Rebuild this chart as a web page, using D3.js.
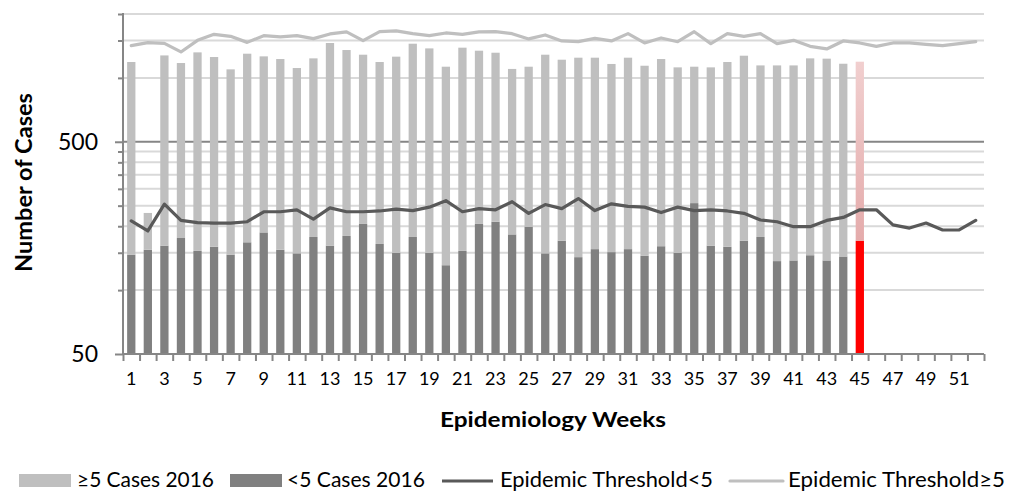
<!DOCTYPE html>
<html>
<head>
<meta charset="utf-8">
<script src="https://cdn.jsdelivr.net/npm/d3@7"></script>
<style>
  html, body { margin: 0; padding: 0; background: #fff; }
  svg { display: block; font-family: Lato, "Open Sans", sans-serif; }
</style>
</head>
<body>
<svg id="chart" width="1023" height="493"></svg>
<script>
// ---------- data ----------
const weeks = [1,2,3,4,5,6,7,8,9,10,11,12,13,14,15,16,17,18,19,20,21,22,23,24,25,26,
               27,28,29,30,31,32,33,34,35,36,37,38,39,40,41,42,43,44,45,46,47,48,49,50,51,52];
const weekLabels = [1,3,5,7,9,11,13,15,17,19,21,23,25,27,29,31,33,35,37,39,41,43,45,47,49,51];

const casesLt5 = [147,155,162,176,153,160,147,168,187,155,149,178,162,180,205,165,150,178,150,131,
                  153,205,210,183,199,149,171,143,156,151,156,145,161,150,257,162,160,171,178,137,
                  138,146,138,144,171];
const casesGe5 = [1041,76,1114,999,1166,1094,950,1132,1076,1072,964,1058,1298,1173,1081,1023,1109,1271,1227,998,
                  1235,1138,1104,919,930,1137,1047,1102,1089,1012,1089,996,1066,971,872,959,1028,1101,967,1008,
                  1007,1090,1094,1022,1021];
const thresholdLt5 = [212,190,254,213,208,207,207,210,234,234,239,216,244,234,234,236,241,237,246,264,
                      234,242,239,261,230,253,242,270,237,255,248,246,232,246,237,239,236,230,214,210,
                      199,199,213,220,239,239,203,196,207,192,192,213];
const thresholdGe5 = [1419,1465,1454,1325,1503,1604,1569,1470,1581,1559,1581,1531,1611,1646,1498,1651,1664,1616,1581,1628,
                      1604,1646,1651,1616,1526,1593,1493,1481,1535,1493,1616,1461,1542,1481,1651,1450,1616,1569,1616,1450,
                      1503,1408,1369,1493,1461,1408,1461,1461,1439,1419,1450,1481];
const currentWeek = 45;

const majorTicks = [50, 500];
const minorTicks = [100,150,200,250,300,350,400,450,1000,1500,2000];
const yDomain = [50, 2000];

const seriesNames = ["\u22655 Cases 2016", "<5 Cases 2016", "Epidemic Threshold<5", "Epidemic Threshold\u22655"];

// ---------- layout ----------
const svg = d3.select("#chart");
const pLeft = 123, pRight = 984, pTop = 14, pBottom = 354;

const x = d3.scaleBand().domain(weeks).range([pLeft, pRight]).paddingInner(0.5).paddingOuter(0.25);
const xEdge = d3.scaleLinear().domain([0, weeks.length]).range([pLeft, pRight]);
const y = d3.scaleLog().domain(yDomain).range([pBottom, pTop]);

const C = { light: "#bfbfbf", dark: "#808080", lineDark: "#595959", lineLight: "#bfbfbf",
            axis: "#868686", grid: "#d9d9d9", major: "#868686" };

const defs = svg.append("defs");
const grad = defs.append("linearGradient").attr("id", "pinkGrad")
  .attr("x1", 0).attr("y1", 0).attr("x2", 0).attr("y2", 1);
grad.append("stop").attr("offset", "0%").attr("stop-color", "#f1cfcf");
grad.append("stop").attr("offset", "100%").attr("stop-color", "#e4abab");

// gridlines
svg.append("g").selectAll("line").data(minorTicks).join("line")
  .attr("x1", pLeft).attr("x2", pRight)
  .attr("y1", d => y(d)).attr("y2", d => y(d))
  .attr("stroke", C.grid).attr("stroke-width", 2);
svg.append("g").selectAll("line").data(majorTicks.filter(d => d !== yDomain[0])).join("line")
  .attr("x1", pLeft).attr("x2", pRight)
  .attr("y1", d => y(d)).attr("y2", d => y(d))
  .attr("stroke", C.major).attr("stroke-width", 2);

// stacked bars
const barData = casesLt5.map((v, i) => ({ week: weeks[i], lt5: v, ge5: casesGe5[i] }));
const bars = svg.append("g");
bars.selectAll("rect.lt5").data(barData).join("rect").attr("class", "lt5")
  .attr("x", d => x(d.week)).attr("width", x.bandwidth())
  .attr("y", d => y(d.lt5)).attr("height", d => y(yDomain[0]) - y(d.lt5))
  .attr("fill", d => d.week === currentWeek ? "#ff0000" : C.dark);
bars.selectAll("rect.ge5").data(barData).join("rect").attr("class", "ge5")
  .attr("x", d => x(d.week)).attr("width", x.bandwidth())
  .attr("y", d => y(d.lt5 + d.ge5)).attr("height", d => y(d.lt5) - y(d.lt5 + d.ge5))
  .attr("fill", d => d.week === currentWeek ? "url(#pinkGrad)" : C.light);

// threshold lines
const cx = w => x(w) + x.bandwidth() / 2;
const line = d3.line().x((d, i) => cx(weeks[i])).y(d => y(d));
svg.append("path").datum(thresholdGe5).attr("d", line)
  .attr("fill", "none").attr("stroke", C.lineLight).attr("stroke-width", 3.2)
  .attr("stroke-linejoin", "round").attr("stroke-linecap", "round");
svg.append("path").datum(thresholdLt5).attr("d", line)
  .attr("fill", "none").attr("stroke", C.lineDark).attr("stroke-width", 3.2)
  .attr("stroke-linejoin", "round").attr("stroke-linecap", "round");

// y axis
const yMinor = svg.append("g").attr("transform", `translate(${pLeft},0)`)
  .call(d3.axisLeft(y).tickValues(minorTicks).tickSize(5).tickFormat(""));
const yMajor = svg.append("g").attr("transform", `translate(${pLeft},0)`)
  .call(d3.axisLeft(y).tickValues(majorTicks).tickSize(8).tickPadding(17).tickFormat(d3.format("d")));
[yMinor, yMajor].forEach(g => {
  g.select(".domain").attr("stroke", C.axis).attr("stroke-width", 2)
    .attr("d", `M0,${pBottom}V${pTop - 1}`);
  g.selectAll(".tick line").attr("stroke", C.axis).attr("stroke-width", 2);
});
yMajor.selectAll(".tick text").attr("font-size", 23).attr("fill", "#000")
  .attr("font-family", "Lato, sans-serif");

// x axis
const xTicks = svg.append("g").attr("transform", `translate(0,${pBottom})`)
  .call(d3.axisBottom(xEdge).tickValues(d3.range(0, weeks.length + 1)).tickSize(7).tickFormat(""));
xTicks.select(".domain").attr("stroke", C.axis).attr("stroke-width", 2)
  .attr("d", `M${pLeft - 1},0H${pRight}`);
xTicks.selectAll(".tick line").attr("stroke", C.axis).attr("stroke-width", 2);

const xLab = svg.append("g").attr("transform", `translate(0,${pBottom})`)
  .call(d3.axisBottom(x).tickValues(weekLabels).tickSize(0).tickPadding(18));
xLab.select(".domain").remove();
xLab.selectAll(".tick text").attr("font-size", 18).attr("fill", "#000")
  .attr("font-family", "Lato, sans-serif");

// titles
svg.append("text").attr("x", 553).attr("y", 427).attr("text-anchor", "middle")
  .attr("font-size", 20).attr("font-weight", "bold").attr("fill", "#000")
  .attr("textLength", 226).attr("lengthAdjust", "spacingAndGlyphs")
  .text("Epidemiology Weeks");
svg.append("text").attr("transform", "translate(32,182.5) rotate(-90)").attr("text-anchor", "middle")
  .attr("font-size", 22).attr("font-weight", "bold").attr("fill", "#000")
  .attr("textLength", 179).attr("lengthAdjust", "spacingAndGlyphs")
  .text("Number of Cases");

// legend
const lg = svg.append("g");
const ly = 481;
lg.append("rect").attr("x", 19).attr("y", 474).attr("width", 52).attr("height", 13).attr("fill", C.light);
lg.append("rect").attr("x", 230).attr("y", 474).attr("width", 52).attr("height", 13).attr("fill", C.dark);
lg.append("line").attr("x1", 442).attr("x2", 493).attr("y1", ly).attr("y2", ly)
  .attr("stroke", C.lineDark).attr("stroke-width", 3.2);
lg.append("line").attr("x1", 730).attr("x2", 783).attr("y1", ly).attr("y2", ly)
  .attr("stroke", C.lineLight).attr("stroke-width", 3.2).attr("stroke-linecap", "round");
const legendText = [
  { x: 77, w: 137, t: seriesNames[0] },
  { x: 287, w: 138, t: seriesNames[1] },
  { x: 500, w: 213, t: seriesNames[2] },
  { x: 788, w: 217, t: seriesNames[3] }
];
lg.selectAll("text").data(legendText).join("text")
  .attr("x", d => d.x).attr("y", 487)
  .attr("font-size", 21).attr("fill", "#000")
  .attr("textLength", d => d.w).attr("lengthAdjust", "spacingAndGlyphs")
  .text(d => d.t);
</script>
</body>
</html>
